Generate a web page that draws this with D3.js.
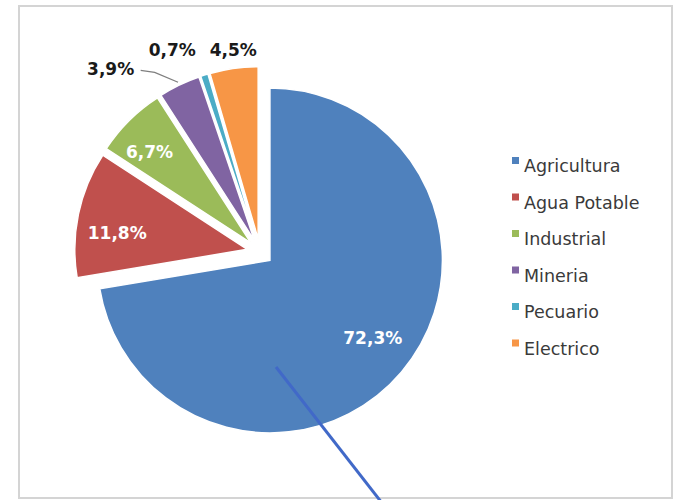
<!DOCTYPE html>
<html lang="es">
  <head>
    <meta charset="utf-8"/>
    <script src="https://d3js.org/d3.v7.min.js"></script>
    <style>
      body { margin: 0; background: #fff; }
      .lbl { font: bold 17px "DejaVu Sans", sans-serif; }
      .legend text { font: 17.5px "DejaVu Sans", sans-serif; fill: #3a3a3a; }
    </style>
  </head>
  <body>
    <svg class="chart" width="681" height="500"></svg>
  </body>
  <script>
    // data
    const categories = ["Agricultura", "Agua Potable", "Industrial", "Mineria", "Pecuario", "Electrico"];
    const shares = [72.3, 11.8, 6.7, 3.9, 0.7, 4.5];
    const labels = ["72,3%", "11,8%", "6,7%", "3,9%", "0,7%", "4,5%"];
    const colors = ["#4f81bd", "#c0504d", "#9bbb59", "#8064a2", "#4bacc6", "#f79646"];

    const width = 681, height = 500;
    const cx = 260, cy = 252, radius = 172.5, explode = 13;

    const svg = d3.select(".chart");

    // chart frame
    svg.append("rect")
      .attr("x", 19).attr("y", 6)
      .attr("width", 653).attr("height", 492)
      .attr("fill", "#fff")
      .attr("stroke", "#d4d4d4")
      .attr("stroke-width", 2);

    const pie = d3.pie().sort(null).value(function(d) { return d; });
    const arc = d3.arc().innerRadius(0).outerRadius(radius);
    const arcs = pie(shares);

    function dir(a) { return [Math.sin(a), -Math.cos(a)]; }
    function mid(d) { return (d.startAngle + d.endAngle) / 2; }

    const g = svg.append("g").attr("transform", "translate(" + cx + "," + cy + ")");

    const slice = g.selectAll("g.slice")
      .data(arcs)
      .enter().append("g")
        .attr("class", "slice")
        .attr("transform", function(d) {
          const v = dir(mid(d));
          return "translate(" + (v[0] * explode) + "," + (v[1] * explode) + ")";
        });

    slice.append("path")
      .attr("d", arc)
      .attr("fill", function(d, i) { return colors[i]; })
      .attr("stroke", "#fff")
      .attr("stroke-width", 1.5);

    // inside labels (large slices): angle nudge and radius fraction like excel's best fit
    const inside = { 0: [-0.06, 0.745], 1: [-0.08, 0.76], 2: [-0.055, 0.79] };
    slice.filter(function(d) { return d.data > 5; })
      .append("text")
        .attr("class", "lbl")
        .attr("fill", "#fff")
        .attr("text-anchor", "middle")
        .attr("dy", "0.36em")
        .attr("transform", function(d) {
          const p = inside[d.index];
          const v = dir(mid(d) + p[0]);
          return "translate(" + (v[0] * radius * p[1]) + "," + (v[1] * radius * p[1]) + ")";
        })
        .text(function(d) { return labels[d.index]; });

    // outside labels (small slices), pushed apart
    const outside = { 3: [-39.9, 224], 4: [-23.9, 207], 5: [-7.5, 191] };
    slice.filter(function(d) { return d.data <= 5; })
      .append("text")
        .attr("class", "lbl")
        .attr("fill", "#1a1a1a")
        .attr("text-anchor", "middle")
        .attr("dy", "0.36em")
        .attr("transform", function(d) {
          const p = outside[d.index];
          const v = dir(p[0] * Math.PI / 180);
          return "translate(" + (v[0] * p[1]) + "," + (v[1] * p[1]) + ")";
        })
        .text(function(d) { return labels[d.index]; });

    // leader line for Mineria
    const m = arcs[3];
    const mv = dir(mid(m));
    const tip = [mv[0] * (radius + 3), mv[1] * (radius + 3)];
    const lp = dir(-39.9 * Math.PI / 180);
    const lab = [lp[0] * 224 + 30, lp[1] * 224 + 2];
    slice.filter(function(d) { return d.index === 3; })
      .append("polyline")
        .attr("points", [lab, [lab[0] + 14, lab[1] + 2], tip].map(function(p) { return p.join(","); }).join(" "))
        .attr("fill", "none")
        .attr("stroke", "#7f7f7f")
        .attr("stroke-width", 1.3);

    // legend
    const legend = svg.append("g").attr("class", "legend")
      .selectAll("g")
      .data(categories)
      .enter().append("g")
        .attr("transform", function(d, i) { return "translate(512," + (157 + i * 36.5) + ")"; });

    legend.append("rect")
      .attr("width", 7).attr("height", 7)
      .attr("fill", function(d, i) { return colors[i]; });

    legend.append("text")
      .attr("x", 12)
      .attr("y", 15)
      .text(function(d) { return d; });

    // hand-drawn pointer line
    svg.append("line")
      .attr("x1", 276).attr("y1", 367)
      .attr("x2", 382).attr("y2", 503)
      .attr("stroke", "#4169c8")
      .attr("stroke-width", 3);
  </script>
</html>
